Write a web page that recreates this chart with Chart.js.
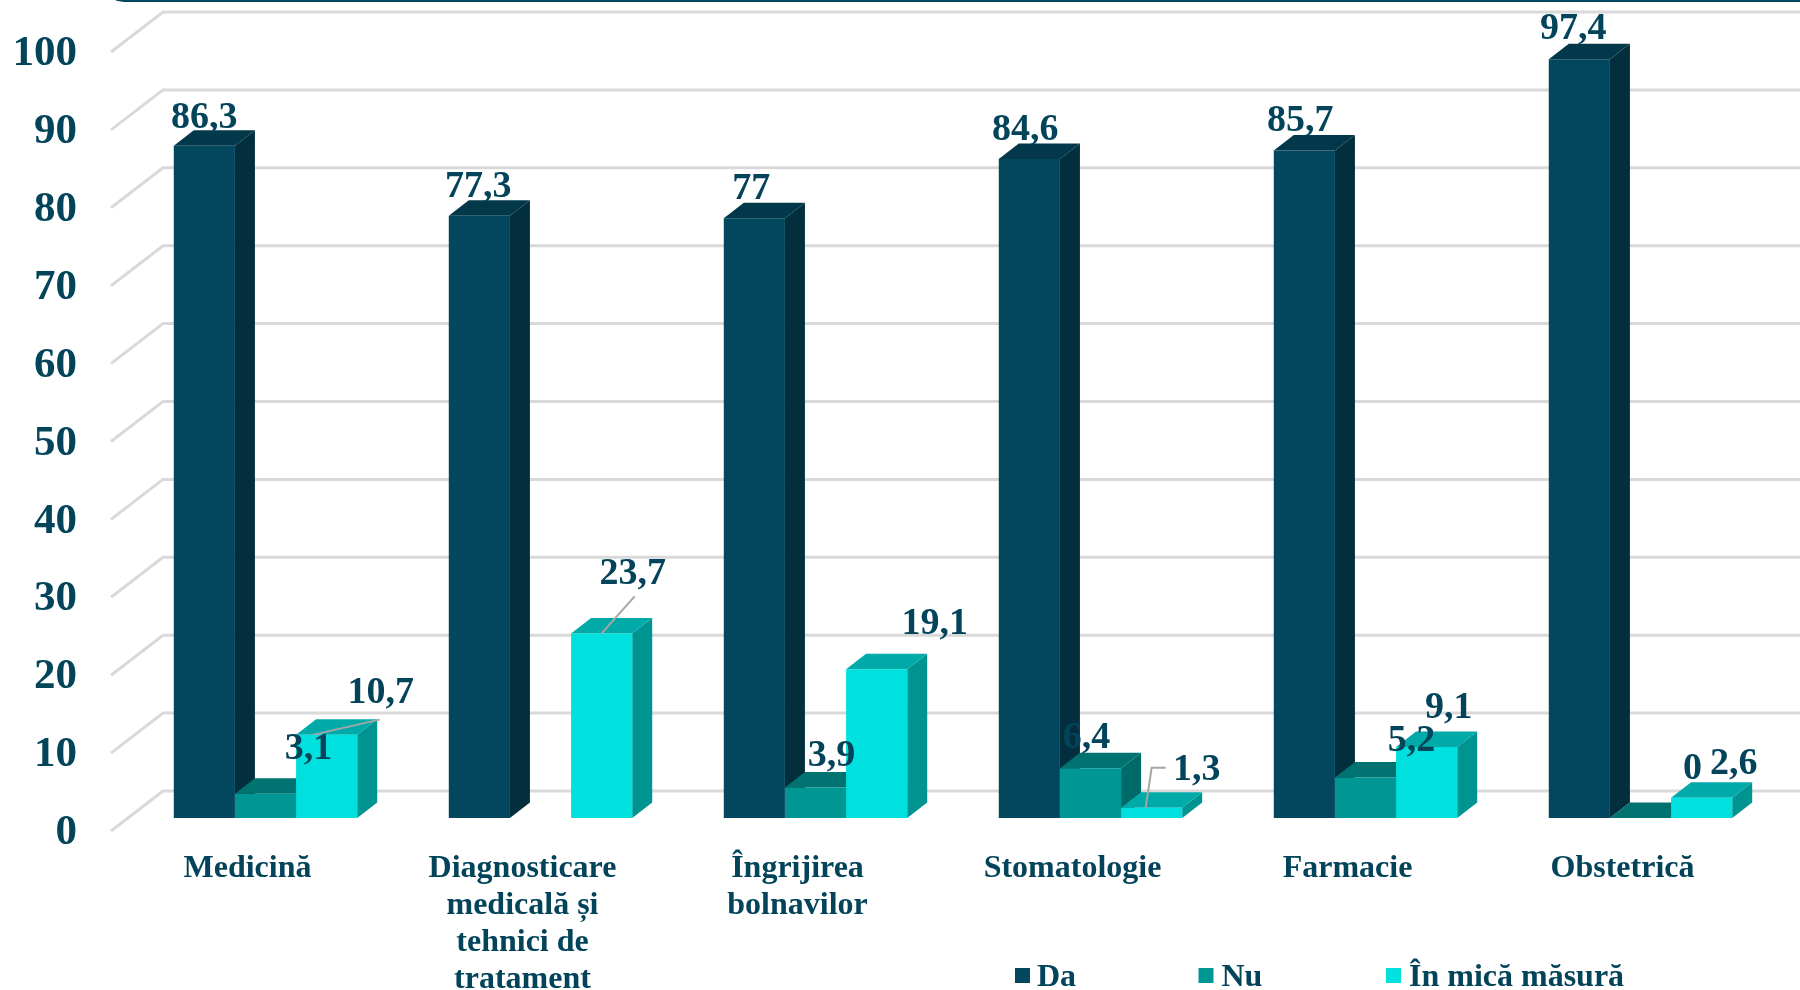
<!DOCTYPE html>
<html>
<head>
<meta charset="utf-8">
<style>
  html, body { margin: 0; padding: 0; background: #fff; }
  #wrap { width: 1800px; height: 990px; }
</style>
<script src="https://cdn.jsdelivr.net/npm/chart.js@4"></script>
</head>
<body>
<div id="wrap"><canvas id="myChart"></canvas></div>
<script>
const categories = ['Medicină', ['Diagnosticare', 'medicală și', 'tehnici de', 'tratament'], ['Îngrijirea', 'bolnavilor'], 'Stomatologie', 'Farmacie', 'Obstetrică'];
const seriesNames = ['Da', 'Nu', 'În mică măsură'];
const da = [86.3, 77.3, 77, 84.6, 85.7, 97.4];
const nu = [3.1, null, 3.9, 6.4, 5.2, 0];
const micaMasura = [10.7, 23.7, 19.1, 1.3, 9.1, 2.6];
const yTicks = [0, 10, 20, 30, 40, 50, 60, 70, 80, 90, 100];

const textColor = '#03445a';
const serif = '"Liberation Serif", serif';

// front, side, top
const palette = [
  ['#02475e', '#022e3e', '#03384a'],
  ['#009694', '#006a68', '#007270'],
  ['#00e0de', '#009490', '#00aaa8']
];

// the value labels were placed by hand in the original, offsets from the top of the bar
const labelOffsets = [
  [[0, -28], [-1, -29], [-3, -29], [-4, -29], [-4, -29], [-6, -30]],
  [[43, -45], null, [16, -31], [-4, -30], [46, -36], [52, -49]],
  [[54, -41], [31, -59], [58, -45], [45, -38], [22, -39], [32, -34]]
];

// leader lines, [series, category, points relative to the top of the bar]
const leaders = [
  [2, 0, [[-13, 0], [53, -15]]],
  [2, 1, [[0, 0], [33, -37]]],
  [2, 3, [[-6, 0], [0, -40], [14, -40]]]
];

const depthX = 20, depthY = 15.5;

const legendItems = [[1015, 1037], [1198.5, 1221.5], [1386, 1409]];

const box3d = {
  id: 'box3d',
  beforeDatasetsDraw(chart) {
    const ctx = chart.ctx;
    const yScale = chart.scales.y;
    const left = chart.chartArea.left;

    // walls: the grid runs diagonally from the front to the back
    ctx.save();
    ctx.strokeStyle = '#d9d9d9';
    ctx.lineWidth = 3;
    yTicks.forEach(function(tick){
      const y = yScale.getPixelForValue(tick);
      ctx.beginPath();
      ctx.moveTo(left - 17, y + 13);
      ctx.lineTo(left + 35, y - 27);
      ctx.lineTo(1800, y - 27);
      ctx.stroke();
    });

    // band at the very top of the picture
    ctx.fillStyle = '#02475e';
    ctx.beginPath();
    ctx.moveTo(115, 0);
    ctx.quadraticCurveTo(120, 2, 128, 2);
    ctx.lineTo(1800, 2);
    ctx.lineTo(1800, 0);
    ctx.closePath();
    ctx.fill();

    // sides and tops first, the library paints the fronts over them
    for(let c = 0; c < categories.length; c++){
      chart.data.datasets.forEach(function(dataset, s){
        if(dataset.data[c] === null) return;
        const bar = chart.getDatasetMeta(s).data[c];
        const l = bar.x - bar.width / 2;
        const r = bar.x + bar.width / 2;
        const base = bar.base;
        const top = bar.y;

        ctx.fillStyle = palette[s][1];
        ctx.beginPath();
        ctx.moveTo(r, top);
        ctx.lineTo(r + depthX, top - depthY);
        ctx.lineTo(r + depthX, base - depthY);
        ctx.lineTo(r, base);
        ctx.closePath();
        ctx.fill();

        ctx.fillStyle = palette[s][2];
        ctx.beginPath();
        ctx.moveTo(l, top);
        ctx.lineTo(l + depthX, top - depthY);
        ctx.lineTo(r + depthX, top - depthY);
        ctx.lineTo(r, top);
        ctx.closePath();
        ctx.fill();
      });
    }
    ctx.restore();
  },
  afterDatasetsDraw(chart) {
    const ctx = chart.ctx;
    ctx.save();

    ctx.strokeStyle = '#a6a6a6';
    ctx.lineWidth = 2;
    leaders.forEach(function(leader){
      const bar = chart.getDatasetMeta(leader[0]).data[leader[1]];
      ctx.beginPath();
      leader[2].forEach(function(p, i){
        if(i === 0) ctx.moveTo(bar.x + p[0], bar.y + p[1]);
        else ctx.lineTo(bar.x + p[0], bar.y + p[1]);
      });
      ctx.stroke();
    });

    ctx.fillStyle = textColor;
    ctx.textAlign = 'center';
    ctx.textBaseline = 'middle';
    ctx.font = 'bold 38px ' + serif;
    chart.data.datasets.forEach(function(dataset, s){
      dataset.data.forEach(function(value, c){
        if(value === null) return;
        const bar = chart.getDatasetMeta(s).data[c];
        const off = labelOffsets[s][c];
        ctx.fillText(String(value).replace('.', ','), bar.x + off[0], bar.y + off[1]);
      });
    });

    // legend has one even column per series
    ctx.textAlign = 'left';
    ctx.font = 'bold 32px ' + serif;
    legendItems.forEach(function(item, s){
      ctx.fillStyle = palette[s][0];
      ctx.fillRect(item[0], 968, 15, 15);
      ctx.fillStyle = textColor;
      ctx.fillText(seriesNames[s], item[1], 978);
    });
    ctx.restore();
  }
};

const ctx = document.getElementById('myChart').getContext('2d');
const myChart = new Chart(ctx, {
  type: 'bar',
  data: {
    labels: categories,
    datasets: [
      { label: seriesNames[0], data: da, backgroundColor: palette[0][0] },
      { label: seriesNames[1], data: nu, backgroundColor: palette[1][0] },
      { label: seriesNames[2], data: micaMasura, backgroundColor: palette[2][0] }
    ]
  },
  options: {
    responsive: true,
    maintainAspectRatio: false,
    animation: false,
    layout: { padding: { top: 39, right: 22, bottom: 0, left: 0 } },
    datasets: { bar: { barPercentage: 1, categoryPercentage: 0.667 } },
    plugins: {
      legend: { display: false },
      tooltip: { enabled: false }
    },
    scales: {
      x: {
        grid: { display: false },
        border: { display: false },
        afterFit: function(scale){ scale.height = 172; },
        ticks: {
          color: textColor,
          font: { family: serif, weight: 'bold', size: 32, lineHeight: 1.16 },
          padding: 24,
          labelOffset: -18,
          autoSkip: false,
          maxRotation: 0
        }
      },
      y: {
        min: 0,
        max: 100,
        grid: { display: false },
        border: { display: false },
        afterFit: function(scale){
          scale.width = 128;
          scale.paddingTop = 0;
          scale.paddingBottom = 0;
        },
        afterBuildTicks: function(scale){ scale.ticks = yTicks.map(function(v){ return { value: v }; }); },
        ticks: {
          color: textColor,
          font: { family: serif, weight: 'bold', size: 43 },
          padding: 43,
          labelOffset: 15
        }
      }
    }
  },
  plugins: [box3d]
});
</script>
</body>
</html>
